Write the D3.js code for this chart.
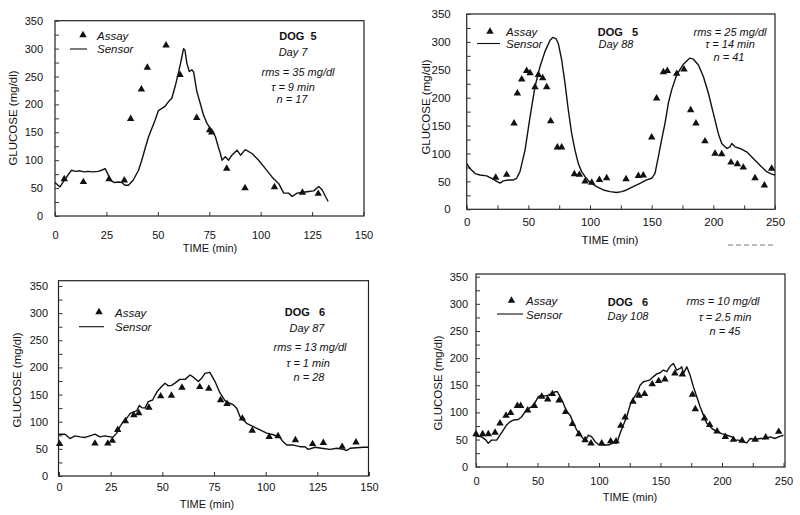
<!DOCTYPE html>
<html><head><meta charset="utf-8">
<script src="https://cdn.jsdelivr.net/npm/d3@7/dist/d3.min.js"></script>
<style>
body{margin:0;background:#fff;}
text{font-family:"Liberation Sans",Arial,sans-serif;fill:#111;}
</style></head>
<body>
<script>
// ---------- DATA ----------
const yTicks = [0,50,100,150,200,250,300,350];
const xTicks150 = [0,25,50,75,100,125,150];
const xTicks250 = [0,50,100,150,200,250];

// Panel 1: DOG 5, Day 7
const p1Sensor = [[0,60],[2.4,52],[4.9,66],[8,82],[10,80],[12.2,81],[14,79],[16,80],[18.6,79],[21,80],[22.7,82],[24.4,85],[25.6,76],[26.8,64],[29,60],[31,61],[32.5,60],[34,55],[35.7,55],[38,64],[40.6,82],[42.2,100],[43.8,121],[45.5,142],[47.4,160],[48.7,172],[50.3,189],[52,193],[53.6,197],[55.2,205],[56.8,211],[58.4,232],[60,256],[61.4,280],[62.5,300],[63.2,297],[64.1,274],[65.3,259],[66.6,262],[67.4,258],[69,223],[70.6,202],[72.2,181],[73.9,166],[75.5,157],[77.1,148],[78,142],[79.3,125],[80.4,112],[81.2,100],[82.8,106],[84.4,100],[86,109],[88.5,118],[90.2,109],[92.5,119],[95.8,112],[99,100],[102.3,85],[105.5,70],[108.8,58],[111.2,41],[113.6,41],[115.3,35],[117.7,41],[120,42],[123.4,44],[125.8,45],[128.2,53],[129.9,47],[131.5,35],[132.8,26]];
const p1Assay = [[4.5,66],[13.8,61],[26.3,66],[33.7,64],[36.8,174],[42,227],[44.9,266],[54,306],[60.8,253],[68.9,176],[75.2,154],[76.2,150],[83.5,85],[92.4,50],[106.7,52],[120.3,42],[128,40]];
const p1Notes = ["DOG  5","Day 7","rms = 35 mg/dl","τ = 9 min","n = 17"];

// Panel 2: DOG 5, Day 88
const p2Sensor = [[0,82],[2.7,73],[6.8,64],[10.8,61.5],[16.2,60],[20.3,55.6],[24.3,50],[27,47],[29.7,51],[33.8,52.6],[37.8,52.6],[40.5,55.6],[43.2,67.5],[47.3,106],[51.4,166],[55.4,220],[59.5,256],[63.5,283],[67.6,303],[69.7,308],[72.4,306],[74.3,297],[77,268],[79.7,226],[82.4,178],[85.1,136],[87.8,106],[90.5,82],[93.2,67.5],[96,58.5],[100,48],[105.4,40.6],[110.8,34.6],[116.2,31.7],[121.6,30],[125.7,31.7],[129.7,34.6],[135,40.6],[140.5,46.6],[145.9,52.6],[150,55.6],[152.7,64.5],[155.4,94],[158,124],[160.8,154],[163.5,190],[166.2,214],[170.3,241],[175.7,260],[181,271],[183.8,269],[187.8,259],[191.9,238],[196,208],[200,172],[204,136],[206.8,118],[211,109],[213.5,112],[214.9,118],[217.6,112],[221.6,109],[227,103],[232.4,91],[237.8,79],[243.2,67.5],[247.3,63],[250,61.5]];
const p2Assay = [[23.5,57],[32.4,62],[38.4,154],[41.1,208],[44.6,233],[48.6,248],[51.4,244],[55.4,219],[58.1,241],[61.6,235],[64.9,219],[68.1,158],[73.5,111],[77,111],[87.3,63],[91.4,62],[96,50],[101.4,48],[107.6,53],[113.5,56],[129.2,54],[139.2,60],[143.2,61],[150,129],[154,199],[159.5,246],[162.7,248],[170.3,243],[176.2,251],[181.6,178],[185.9,154],[193.2,122],[201.4,100],[206.8,99],[214.3,84],[219.5,81],[224.3,75],[233.8,56],[241.4,43],[247.3,73]];
const p2Notes = ["DOG   5","Day 88","rms = 25 mg/dl","τ = 14 min","n = 41"];

// Panel 3: DOG 6, Day 87
const p3Sensor = [[0,77],[2.9,77],[5.3,69],[7.7,74],[10.2,72],[12.6,71],[15,74],[17.4,77],[19.8,72],[22.3,74],[24.7,72],[26.3,72],[27.9,79],[29.5,91],[31.1,100],[32.7,106],[34.4,115],[36,118],[37.6,120],[38.9,130],[40,126],[41.6,125],[43.2,137],[45.3,140],[46.5,149],[48,158],[49.7,165],[51.3,171],[52.9,166],[54.5,167],[56.1,171],[58.5,178],[61,178],[63.4,186],[65,182],[67.4,174],[69,180],[70.6,189],[73,191],[75.5,174],[77.9,153],[80.3,139],[82.7,134],[84.4,131],[86,125],[87.6,109],[90.8,97],[94,91],[97.3,85],[100.5,79],[103.7,76],[106.9,71],[108.5,63],[110.2,57],[113.4,57],[116.6,54],[119,54],[120.6,49],[123.9,53],[127.1,51],[131.1,49],[134.4,51],[137.6,49],[139.2,47],[140.8,51],[144,52],[147.3,53],[149.7,53]];
const p3Assay = [[0.3,59],[17.4,60],[23.6,60],[25.8,65],[28.4,85],[32.1,101],[36.2,112],[38.6,116],[43.5,126],[49.2,147],[54.4,148],[59.5,163],[68.1,164],[72.5,161],[78.2,140],[81.3,133],[88.7,106],[93.5,83.5],[101.7,72],[106,73.5],[114.4,66],[122.7,59],[127.9,61],[137,54],[143.7,62]];
const p3Notes = ["DOG   6","Day 87","rms = 13 mg/dl","τ = 1 min","n = 28"];

// Panel 4: DOG 6, Day 108
const p4Sensor = [[0,56.5],[4.6,55],[8.1,49],[10,43],[12.7,49],[16.8,49],[19.5,58],[22.2,67.5],[24.9,77],[27.7,83],[30.4,86],[34.4,87],[37.1,92],[39.9,101],[42.6,107],[45.3,110.5],[48,118],[50.7,129],[53.4,132],[56.1,130],[58.8,132],[61.6,135],[64.3,138],[66.2,138],[68.3,129],[71,117],[73.8,101],[76.5,95],[79.2,80],[81.9,67.5],[86,55],[88.7,47],[91.4,58],[94.1,55],[96.8,46],[99.5,41],[103.6,40],[107.6,40],[111.7,44],[114.4,43],[117.1,61],[119.8,77],[122.6,92],[125.3,113.6],[128,126],[130.7,135],[133.4,150],[136.1,156.5],[138.8,158],[141.5,160],[144.3,166],[147,171],[149.7,173],[152.4,178],[155.1,175],[157.8,185],[160.5,190],[163.2,178],[165.9,181],[167.3,184],[168.7,172],[171.4,184],[174,169],[176.8,147],[179.5,129],[182.2,110.5],[184.9,95],[187.6,80],[191.7,70.6],[195.8,64.5],[199.8,61],[203.9,58],[208,55],[210.7,49],[213.4,49],[217.5,46],[220.2,44],[222.9,52],[227,50],[231,52],[235.1,52],[239.1,55],[243.2,52],[245.9,55],[250,58]];
const p4Assay = [[0,60],[5.4,60],[10,60],[15.5,63],[19.5,80],[24.4,94],[28.2,99],[33.6,112],[36.3,112],[42,104],[47.5,112],[53.4,129],[58.3,124],[62.1,134],[67.5,122],[72.9,101],[78.4,79],[83.7,60],[88.7,49],[93.5,43],[102.2,43],[109.5,47],[113.9,47],[117.7,75.5],[121.2,91],[127.6,120],[132.5,131],[137.1,134],[143.3,152],[148.5,158],[153.6,161],[161.7,172],[167.8,170],[176,133],[178.3,106],[185.8,89],[190,77],[196,65],[202.7,55],[209.3,49.7],[216.3,48],[227,50],[235.5,54],[246.1,64.5]];
const p4Notes = ["DOG   6","Day 108","rms = 10 mg/dl","τ = 2.5 min","n = 45"];

const legendLabels = ["Assay","Sensor"];

// ---------- LAYOUT ----------
const panels = [
 {sensor:p1Sensor, assay:p1Assay, notes:p1Notes, xMax:150, xTicks:xTicks150,
  x0:55, x1:363.5, y0:216, y1:20.7, frame:[55,20.7,364,216],
  yPad:12, xPad:15, tfs:11,
  xTitle:[210,252], yTitle:[13,118],
  leg:{tri:[83,35], line:[70,87,49], tx:97, ty:[39.5,53]},
  notePos:[[298,40],[293,56],[298,76],[293,91],[292,103]]},
 {sensor:p2Sensor, assay:p2Assay, notes:p2Notes, xMax:250, xTicks:xTicks250,
  x0:466.7, x1:775, y0:209.3, y1:14, frame:[466.7,14,775,209.3],
  yPad:16, xPad:9, tfs:11.5,
  xTitle:[610,244], yTitle:[426,107],
  leg:{tri:[490,31.5], line:[477,500,43.5], tx:506, ty:[36,48]},
  notePos:[[618,36],[616,47.5],[730,36],[730,48],[729,61]]},
 {sensor:p3Sensor, assay:p3Assay, notes:p3Notes, xMax:150, xTicks:xTicks150,
  x0:59, x1:369, y0:476, y1:286, frame:[58.5,280.7,368.5,476],
  yPad:10.5, xPad:7, tfs:11,
  xTitle:[207,508], yTitle:[17,380],
  leg:{tri:[99,312], line:[79,104,326.7], tx:115, ty:[316.5,331]},
  notePos:[[305,316],[307,332],[310,351],[308,367],[309,381]]},
 {sensor:p4Sensor, assay:p4Assay, notes:p4Notes, xMax:250, xTicks:xTicks250,
  x0:476, x1:783.5, y0:466.7, y1:276.7, frame:[476,274,785,467],
  yPad:8, xPad:10.5, tfs:11,
  xTitle:[630,501], yTitle:[438,383],
  leg:{tri:[511.5,300.5], line:[497,523,314], tx:526, ty:[305,318.5]},
  notePos:[[628,306],[628,320],[723,305],[725,321],[725,335]]}
];

const svg = d3.select("body").append("svg").attr("width",800).attr("height",515);
svg.append("rect").attr("width",800).attr("height",515).attr("fill","#fff");

panels.forEach(p => {
  const g = svg.append("g");
  const x = d3.scaleLinear().domain([0,p.xMax]).range([p.x0,p.x1]);
  const y = d3.scaleLinear().domain([0,350]).range([p.y0,p.y1]);
  const [fx0,fy0,fx1,fy1] = p.frame;

  g.append("rect").attr("x",fx0).attr("y",fy0).attr("width",fx1-fx0).attr("height",fy1-fy0)
    .attr("fill","none").attr("stroke","#222").attr("stroke-width",1.2);

  const yAx = d3.axisLeft(y).tickValues(d3.range(0,351,25))
    .tickFormat(d => yTicks.includes(d) ? d : "")
    .tickSizeInner(-4).tickSizeOuter(0).tickPadding(p.yPad);
  const ya = g.append("g").attr("transform",`translate(${fx0},0)`).call(yAx);
  ya.select(".domain").remove();
  ya.selectAll("line").attr("stroke","#333");
  ya.selectAll("text").attr("font-size",p.tfs).attr("fill","#111")
    .attr("font-family","Liberation Sans, Arial, sans-serif");

  const xAx = d3.axisBottom(x).tickValues(d3.range(0,p.xMax+1,25))
    .tickFormat(d => p.xTicks.includes(d) ? d : "")
    .tickSizeInner(-4).tickSizeOuter(0).tickPadding(p.xPad);
  const xa = g.append("g").attr("transform",`translate(0,${fy1})`).call(xAx);
  xa.select(".domain").remove();
  xa.selectAll("line").attr("stroke","#333");
  xa.selectAll("text").attr("font-size",p.tfs).attr("fill","#111")
    .attr("font-family","Liberation Sans, Arial, sans-serif");

  g.append("text").attr("x",p.xTitle[0]).attr("y",p.xTitle[1]).attr("text-anchor","middle")
    .attr("font-size",p.tfs).text("TIME (min)");
  g.append("text").attr("transform",`translate(${p.yTitle[0]},${p.yTitle[1]}) rotate(-90)`)
    .attr("text-anchor","middle").attr("dy","0.35em").attr("font-size",11.5).text("GLUCOSE (mg/dl)");

  const line = d3.line().x(d=>x(d[0])).y(d=>y(d[1]));
  g.append("path").datum(p.sensor).attr("d",line).attr("fill","none")
    .attr("stroke","#111").attr("stroke-width",1.4).attr("stroke-linejoin","round");

  const tri = d3.symbol(d3.symbolTriangle, 24);
  g.selectAll(".a").data(p.assay).join("path")
    .attr("d",tri).attr("transform",d=>`translate(${x(d[0])},${y(d[1])})`).attr("fill","#111");

  g.append("path").attr("d",tri).attr("transform",`translate(${p.leg.tri[0]},${p.leg.tri[1]})`).attr("fill","#111");
  g.append("line").attr("x1",p.leg.line[0]).attr("x2",p.leg.line[1]).attr("y1",p.leg.line[2]).attr("y2",p.leg.line[2])
    .attr("stroke","#111").attr("stroke-width",1.1);
  legendLabels.forEach((t,i)=>{
    g.append("text").attr("x",p.leg.tx).attr("y",p.leg.ty[i]).attr("font-size",11.5)
      .attr("font-style","italic").text(t);
  });

  p.notes.forEach((t,i)=>{
    g.append("text").attr("x",p.notePos[i][0]).attr("y",p.notePos[i][1])
      .attr("text-anchor","middle").attr("font-size",11)
      .attr("font-weight", i===0 ? "bold" : "normal")
      .attr("font-style", i===0 ? "normal" : "italic")
      .style("white-space","pre").text(t);
  });
});

svg.append("line").attr("x1",728).attr("x2",776).attr("y1",245).attr("y2",245)
  .attr("stroke","#777").attr("stroke-width",1).attr("stroke-dasharray","5,3");
</script>
</body></html>
